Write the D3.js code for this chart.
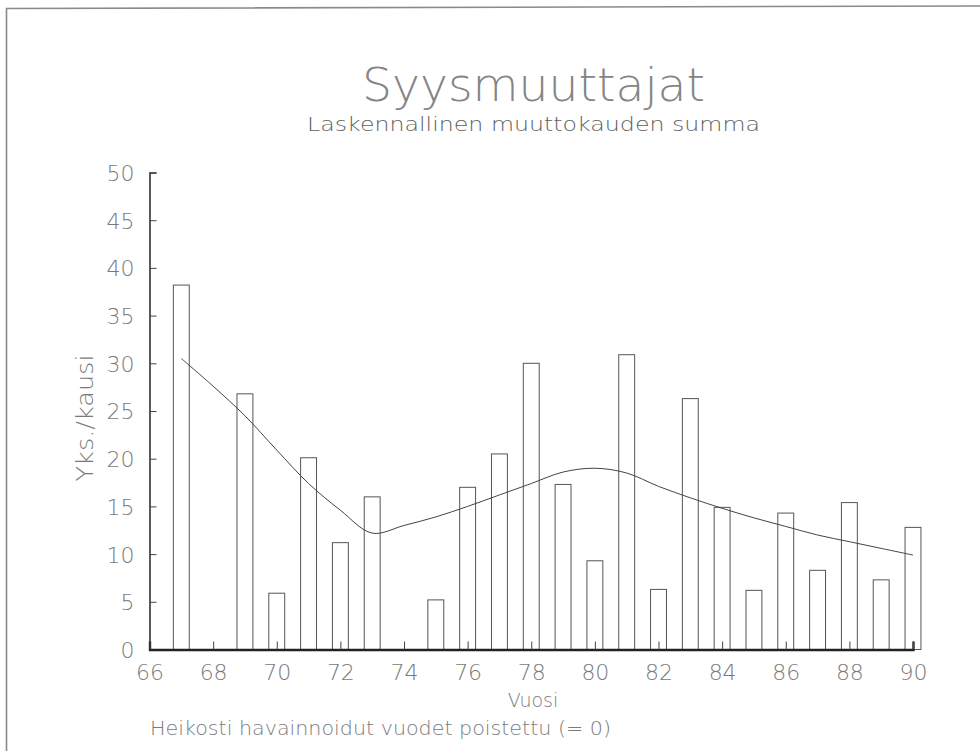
<!DOCTYPE html>
<html>
<head>
<meta charset="utf-8">
<script src="https://cdn.jsdelivr.net/npm/d3@7"></script>
<style>
  html, body { margin: 0; padding: 0; background: #fff; overflow: hidden; }
  svg { display: block; }
  text { font-family: "DejaVu Sans", "Liberation Sans", sans-serif; font-weight: 200; fill: #7a7a7a; }
</style>
</head>
<body>
<svg id="chart" width="980" height="751"></svg>
<script>
// ---- data ----
const years = [67, 68, 69, 70, 71, 72, 73, 74, 75, 76, 77, 78, 79, 80, 81, 82, 83, 84, 85, 86, 87, 88, 89, 90];
const values = [38.2, 0, 26.8, 5.9, 20.1, 11.2, 16.0, 0, 5.2, 17.0, 20.5, 30.0, 17.3, 9.3, 30.9, 6.3, 26.3, 14.9, 6.2, 14.3, 8.3, 15.4, 7.3, 12.8];
const smoothValues = [30.5, 27.6, 24.5, 20.9, 17.4, 14.6, 12.2, 13.0, 13.9, 15.0, 16.2, 17.4, 18.6, 19.0, 18.5, 17.1, 15.9, 14.8, 13.8, 12.9, 12.0, 11.3, 10.6, 9.9];
const xTicks = [66, 68, 70, 72, 74, 76, 78, 80, 82, 84, 86, 88, 90];
const yTicks = [0, 5, 10, 15, 20, 25, 30, 35, 40, 45, 50];
const titleText = "Syysmuuttajat";
const subtitleText = "Laskennallinen muuttokauden summa";
const xLabel = "Vuosi";
const yLabel = "Yks./kausi";
const noteText = "Heikosti havainnoidut vuodet poistettu (= 0)";

// ---- layout ----
const svg = d3.select("#chart");
const x = d3.scaleLinear().domain([66, 90]).range([149.5, 913]);
const y = d3.scaleLinear().domain([0, 50]).range([649.5, 172.5]);
const step = x(67) - x(66);
const barW = step * 0.5;

// frame
svg.append("path")
  .attr("d", "M6.5,751 L6.5,8.5 L980,6")
  .attr("fill", "none").attr("stroke", "#8a8a8a").attr("stroke-width", 1.6);

// title
svg.append("text").attr("x", 533.5).attr("y", 101).attr("text-anchor", "middle")
  .style("font-size", "46px").style("fill", "#858585")
  .attr("textLength", 343).attr("lengthAdjust", "spacingAndGlyphs").text(titleText);
svg.append("text").attr("x", 533.5).attr("y", 131).attr("text-anchor", "middle")
  .style("font-size", "19px").style("fill", "#606060")
  .attr("textLength", 453).attr("lengthAdjust", "spacingAndGlyphs").text(subtitleText);

// bars
const data = years.map((yr, i) => ({ yr, v: values[i] }));
svg.append("g").selectAll("rect")
  .data(data.filter(d => d.v > 0))
  .join("rect")
  .attr("x", d => x(d.yr) - barW / 2)
  .attr("y", d => y(d.v))
  .attr("width", barW)
  .attr("height", d => y(0) - y(d.v))
  .attr("fill", "#fff")
  .attr("stroke", "#555")
  .attr("stroke-width", 1);

// smooth line
const line = d3.line()
  .x((d, i) => x(years[i]))
  .y(d => y(d))
  .curve(d3.curveCatmullRom.alpha(0.5));
svg.append("path")
  .attr("d", line(smoothValues))
  .attr("fill", "none")
  .attr("stroke", "#444")
  .attr("stroke-width", 1);

// y axis
const yAxis = d3.axisLeft(y).tickValues(yTicks).tickSize(-7).tickPadding(15).tickFormat(d3.format("d"));
const gy = svg.append("g").attr("transform", `translate(${x(66)},0)`).call(yAxis);
gy.select(".domain").attr("stroke", "#333").attr("stroke-width", 1.6);
gy.selectAll(".tick line").attr("stroke", "#444");
gy.selectAll(".tick text").style("font-size", "22px").style("font-family", "\"DejaVu Sans\", sans-serif")
  .style("font-weight", "200").style("fill", "#7a7a7a").attr("dy", "0.36em");

// x axis
const xAxis = d3.axisBottom(x).tickValues(xTicks).tickSize(-8).tickPadding(15).tickFormat(d3.format("d"));
const gx = svg.append("g").attr("transform", `translate(0,${y(0)})`).call(xAxis);
gx.select(".domain").attr("stroke", "#222").attr("stroke-width", 2.4);
gx.selectAll(".tick line").attr("stroke", "#444");
gx.selectAll(".tick text").style("font-size", "22px").style("font-family", "\"DejaVu Sans\", sans-serif")
  .style("font-weight", "200").style("fill", "#7a7a7a");

// axis labels
svg.append("text").attr("x", 533).attr("y", 707).attr("text-anchor", "middle")
  .style("font-size", "19px").text(xLabel);
svg.append("text")
  .attr("transform", "translate(93,418) rotate(-90)")
  .attr("text-anchor", "middle")
  .style("font-size", "23px")
  .attr("textLength", 127).attr("lengthAdjust", "spacingAndGlyphs")
  .text(yLabel);

// footnote
svg.append("text").attr("x", 150).attr("y", 735)
  .style("font-size", "20px")
  .attr("textLength", 461).attr("lengthAdjust", "spacingAndGlyphs")
  .text(noteText);
</script>
</body>
</html>
